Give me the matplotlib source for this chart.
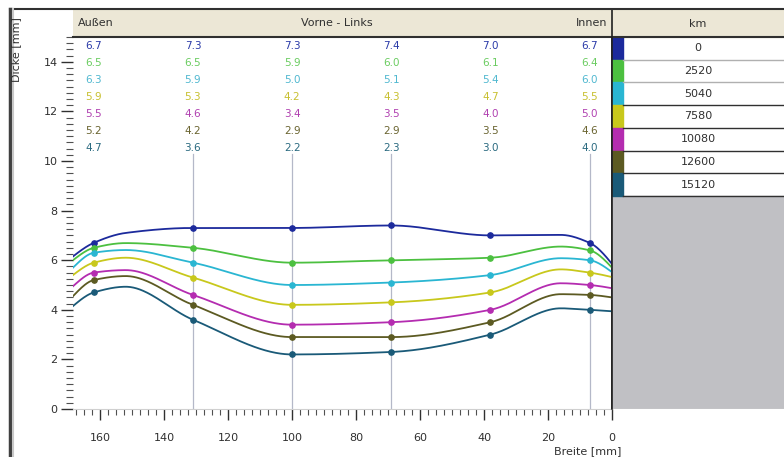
import numpy as np
import matplotlib
matplotlib.use("Agg")
import matplotlib.pyplot as plt
from matplotlib.patches import Rectangle
from matplotlib.lines import Line2D
from matplotlib.ticker import MultipleLocator

# ---------------- data ----------------
km_labels = ["0", "2520", "5040", "7580", "10080", "12600", "15120"]
positions = [162, 131, 100, 69, 38, 7]          # Breite [mm] of measurement points
thick_0 = [6.7, 7.3, 7.3, 7.4, 7.0, 6.7]
thick_2520 = [6.5, 6.5, 5.9, 6.0, 6.1, 6.4]
thick_5040 = [6.3, 5.9, 5.0, 5.1, 5.4, 6.0]
thick_7560 = [5.9, 5.3, 4.2, 4.3, 4.7, 5.5]
thick_10080 = [5.5, 4.6, 3.4, 3.5, 4.0, 5.0]
thick_12600 = [5.2, 4.2, 2.9, 2.9, 3.5, 4.6]
thick_15120 = [4.7, 3.6, 2.2, 2.3, 3.0, 4.0]
series = [thick_0, thick_2520, thick_5040, thick_7560, thick_10080, thick_12600, thick_15120]
# additional profile values (edges and humps)
edge_left_x = 168.5
edge_left = [6.15, 6.0, 5.7, 5.4, 4.95, 4.55, 4.15]
hump_left_x = 152
hump_left = [7.10, 6.69, 6.41, 6.10, 5.60, 5.36, 4.93]
hump_right_x = 16
hump_right = [7.02, 6.55, 6.08, 5.63, 5.07, 4.63, 4.06]
edge_right_x = 0.0
edge_right = [5.85, 5.7, 5.52, 5.32, 4.87, 4.5, 3.94]
grid_positions = [131, 100, 69, 7]

colors = ["#1c2a9c", "#4cc040", "#2ab6d2", "#c8c81c", "#b42cb0", "#5c5a22", "#1a5a78"]
text_colors = ["#2a3aa8", "#6acc60", "#50b8d0", "#c8c030", "#b040b0", "#6a6430", "#2a6a80"]

W, H = 784, 457


def pchip(x, y, xs):
    x = np.asarray(x, float)
    y = np.asarray(y, float)
    h = np.diff(x)
    delta = np.diff(y) / h
    n = len(x)
    d = np.zeros(n)
    for k in range(1, n - 1):
        if delta[k - 1] * delta[k] <= 0:
            d[k] = 0.0
        else:
            w1 = 2 * h[k] + h[k - 1]
            w2 = h[k] + 2 * h[k - 1]
            d[k] = (w1 + w2) / (w1 / delta[k - 1] + w2 / delta[k])

    def end(h0, h1, d0, d1):
        dd = ((2 * h0 + h1) * d0 - h0 * d1) / (h0 + h1)
        if np.sign(dd) != np.sign(d0):
            dd = 0.0
        elif np.sign(d0) != np.sign(d1) and abs(dd) > abs(3 * d0):
            dd = 3 * d0
        return dd

    d[0] = end(h[0], h[1], delta[0], delta[1])
    d[-1] = end(h[-1], h[-2], delta[-1], delta[-2])
    out = np.empty_like(xs)
    for j, xv in enumerate(xs):
        i = int(np.clip(np.searchsorted(x, xv) - 1, 0, n - 2))
        t = (xv - x[i]) / h[i]
        h00 = 2 * t ** 3 - 3 * t ** 2 + 1
        h10 = t ** 3 - 2 * t ** 2 + t
        h01 = -2 * t ** 3 + 3 * t ** 2
        h11 = t ** 3 - t ** 2
        out[j] = h00 * y[i] + h10 * h[i] * d[i] + h01 * y[i + 1] + h11 * h[i] * d[i + 1]
    return out


def fx(px):
    return px / W


def fy(py):
    return 1 - py / H


fig = plt.figure(figsize=(W / 100, H / 100), dpi=100)
fig.patch.set_facecolor("white")

# main axes
ax_l, ax_r, ax_t, ax_b = 73, 612, 37, 409
ax = fig.add_axes([fx(ax_l), fy(ax_b), fx(ax_r - ax_l), fy(ax_t) - fy(ax_b)])
ax.set_xlim(edge_left_x, 0)
ax.set_ylim(0, 15)

for xg in grid_positions:
    ax.plot([xg, xg], [0, 10.3], color="#b4b8c8", lw=0.9, zorder=1)

xs = np.linspace(0, edge_left_x, 500)
for k, (vals, col) in enumerate(zip(series, colors)):
    pts = [(edge_left_x, edge_left[k]), (hump_left_x, hump_left[k]),
           (hump_right_x, hump_right[k]), (edge_right_x, edge_right[k])]
    pts += list(zip(positions, vals))
    pts.sort()
    px = [p[0] for p in pts]
    py = [p[1] for p in pts]
    ys = pchip(px, py, xs)
    ax.plot(xs, ys, color=col, lw=1.3, zorder=3)
    ax.plot(positions, vals, "o", ms=3.8, color=col, mec=col, mfc=col, zorder=4)

# number table
for i, (vals, tc) in enumerate(zip(series, text_colors)):
    for xp, v in zip(positions, vals):
        ax.text(xp, 14.62 - i * 0.685, f"{v:.1f}", color=tc, fontsize=7.5,
                ha="center", va="center", zorder=5)

for s in ["left", "top"]:
    ax.spines[s].set_visible(False)
ax.spines["bottom"].set_color("#d0d0d0")
ax.spines["right"].set_color("#202020")
ax.spines["right"].set_linewidth(1.2)

ax.xaxis.set_minor_locator(MultipleLocator(2.5))
ax.yaxis.set_major_locator(MultipleLocator(2))
ax.yaxis.set_minor_locator(MultipleLocator(0.25))
ax.tick_params(axis="x", which="major", direction="out", length=8, width=1, color="#303030",
               labelsize=8, pad=9, labelcolor="#303030")
ax.tick_params(axis="x", which="minor", direction="out", length=4, width=0.8, color="#505050")
ax.tick_params(axis="y", which="major", direction="out", length=9, width=1, color="#303030",
               labelsize=8, pad=2, labelcolor="#303030")
ax.tick_params(axis="y", which="minor", direction="out", length=5, width=0.8, color="#505050")
ax.set_xticks([160, 140, 120, 100, 80, 60, 40, 20, 0])
ax.set_xticklabels(["160", "140", "120", "100", "80", "60", "40", "20", "0"])

# header band above the plot
hdr_t, hdr_b = 10, 37
hax = fig.add_axes([fx(ax_l), fy(hdr_b), fx(ax_r - ax_l), fy(hdr_t) - fy(hdr_b)])
hax.set_facecolor("#ece7d6")
hax.set_xticks([])
hax.set_yticks([])
for s in hax.spines.values():
    s.set_visible(False)
hax.text(0.01, 0.5, "Außen", transform=hax.transAxes, fontsize=8, va="center", ha="left", color="#303030")
hax.text(0.49, 0.5, "Vorne - Links", transform=hax.transAxes, fontsize=8, va="center", ha="center", color="#303030")
hax.text(0.992, 0.5, "Innen", transform=hax.transAxes, fontsize=8, va="center", ha="right", color="#303030")

# legend panel on the right
lax = fig.add_axes([fx(ax_r), fy(ax_b), fx(W - ax_r), fy(hdr_t) - fy(ax_b)])
lax.set_xlim(ax_r, W)
lax.set_ylim(ax_b, hdr_t)
lax.set_xticks([])
lax.set_yticks([])
for s in lax.spines.values():
    s.set_visible(False)
lax.add_patch(Rectangle((ax_r, hdr_t), W - ax_r, hdr_b - hdr_t, color="#ece7d6", zorder=1))
lax.text((ax_r + W) / 2, (hdr_t + hdr_b) / 2, "km", fontsize=8, ha="center", va="center", color="#303030")
row_h = 22.7
rows_top = hdr_b
n_rows = len(km_labels)
for i, (lab, col) in enumerate(zip(km_labels, colors)):
    y0 = rows_top + i * row_h
    lax.add_patch(Rectangle((ax_r, y0), 11, row_h, color=col, zorder=2))
    lax.text((ax_r + W) / 2, y0 + row_h / 2, lab, fontsize=8, ha="center", va="center", color="#303030")
    if i > 0:
        lc = "#b0b0b0" if i <= 2 else "#303030"
        lax.plot([ax_r + 11, W], [y0, y0], color=lc, lw=1.0, zorder=3)
rows_bot = rows_top + n_rows * row_h
lax.plot([ax_r + 11, W], [rows_bot, rows_bot], color="#303030", lw=1.0, zorder=3)
lax.add_patch(Rectangle((ax_r, rows_bot), W - ax_r, ax_b - rows_bot, color="#c0c0c4", zorder=1))
lax.plot([ax_r, W], [ax_b, ax_b], color="#d0d0d0", lw=1.0, zorder=3)

# frame lines / header separator
fig.add_artist(Line2D([fx(ax_l), fx(W)], [fy(hdr_b), fy(hdr_b)], color="#303030", lw=1.5))
fig.add_artist(Line2D([fx(ax_r), fx(ax_r)], [fy(hdr_t), fy(ax_b)], color="#202020", lw=1.2))
fig.add_artist(Line2D([fx(10), fx(W)], [fy(8.5), fy(8.5)], color="#303030", lw=1.5))
fig.add_artist(Line2D([fx(10), fx(10)], [fy(8.5), 0], color="#404040", lw=2.5))
fig.add_artist(Line2D([fx(12.5), fx(12.5)], [fy(9), 0], color="#c8c8c8", lw=1.5))

# axis labels
fig.text(fx(16), fy(17), "Dicke [mm]", rotation=90, ha="center", va="top", fontsize=8, color="#303030")
fig.text(fx(588), fy(451), "Breite [mm]", ha="center", va="center", fontsize=8, color="#303030")

fig.savefig("out.png", dpi=100)
